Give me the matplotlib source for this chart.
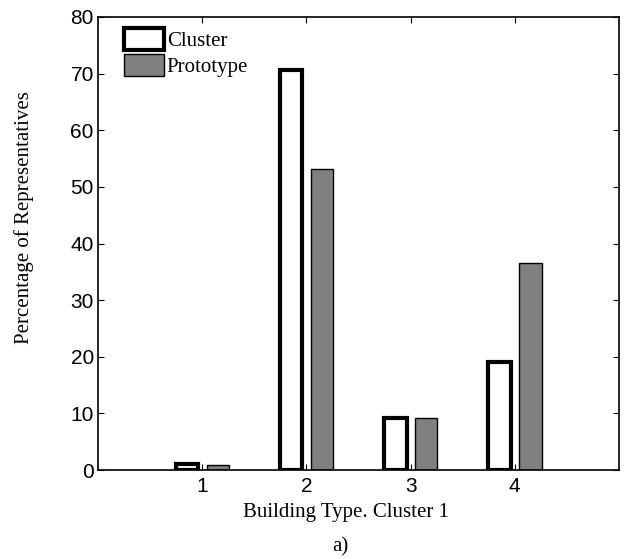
import matplotlib
matplotlib.use('Agg')
import matplotlib.pyplot as plt
import numpy as np

types = [1, 2, 3, 4]
cluster = [1.0, 70.6, 9.2, 19.0]
prototype = [0.8, 53.1, 9.1, 36.6]

fig = plt.figure(figsize=(6.27, 5.59), dpi=100)
ax = fig.add_axes([0.1563, 0.1592, 0.8309, 0.8104])

x = np.array(types)
ax.bar(x - 0.145, cluster, width=0.215, facecolor='white', edgecolor='black',
       linewidth=3.0, label='Cluster')
ax.bar(x + 0.15, prototype, width=0.215, facecolor='#808080', edgecolor='black',
       linewidth=1.0, label='Prototype')

ax.set_xlim(0, 5)
ax.set_ylim(0, 80)
ax.set_xticks(types)
ax.set_yticks(range(0, 81, 10))
ax.tick_params(direction='in', top=True, right=True, length=4, labelsize=15)
ax.tick_params(axis='y', pad=3)
ax.tick_params(axis='x', pad=5)
for lab in ax.get_xticklabels() + ax.get_yticklabels():
    lab.set_family('Liberation Sans')
for s in ax.spines.values():
    s.set_linewidth(1.2)

serif = 'Liberation Serif'
fig.text(346 / 627, 1 - 512 / 559, 'Building Type. Cluster 1', family=serif, fontsize=15,
         ha='center', va='center')
fig.text(24 / 627, 1 - 218 / 559, 'Percentage of Representatives', family=serif, fontsize=15,
         rotation=90, ha='center', va='center')
fig.text(340 / 627, 1 - 547 / 559, 'a)', family=serif, fontsize=15, ha='center', va='center')

ax.legend(loc='upper left', frameon=False, prop={'family': serif, 'size': 15},
          handlelength=1.9, handleheight=1.25, handletextpad=0.15, labelspacing=0.15,
          borderaxespad=0.0, borderpad=0.3, bbox_to_anchor=(0.038, 0.99))

fig.savefig('out.png', dpi=100)
